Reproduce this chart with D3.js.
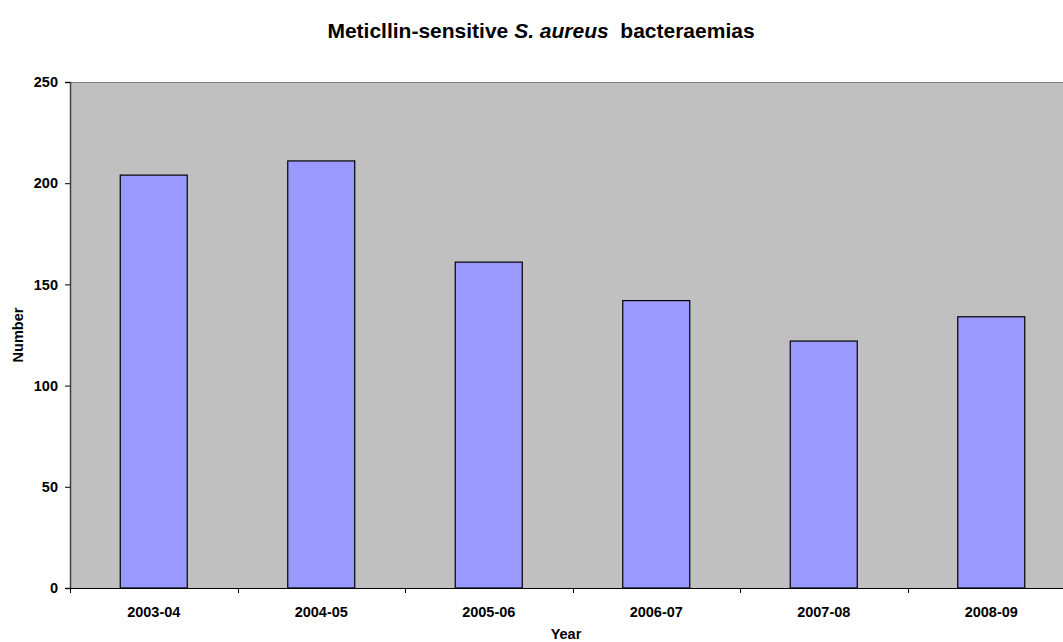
<!DOCTYPE html>
<html>
<head>
<meta charset="utf-8">
<script src="https://cdn.jsdelivr.net/npm/d3@7"></script>
<style>
  html, body { margin: 0; padding: 0; background: #ffffff; }
  svg { display: block; font-family: Arial, "Liberation Sans", sans-serif; }
</style>
</head>
<body>
<svg id="chart" width="1063" height="642"></svg>
<script>
// Financial years and counts of MSSA bacteraemias
const years = ["2003-04", "2004-05", "2005-06", "2006-07", "2007-08", "2008-09"];
const counts = [204, 211, 161, 142, 122, 134];
const yTicks = [0, 50, 100, 150, 200, 250];

const svg = d3.select("#chart");
const plot = { left: 70, top: 82, right: 1075, bottom: 588 };

const x = d3.scaleBand()
  .domain(years)
  .range([plot.left, plot.right])
  .paddingInner(0).paddingOuter(0);

const y = d3.scaleLinear()
  .domain([0, 250])
  .range([plot.bottom, plot.top]);

// Plot area
svg.append("rect")
  .attr("x", plot.left).attr("y", plot.top)
  .attr("width", plot.right - plot.left)
  .attr("height", plot.bottom - plot.top)
  .attr("fill", "#c0c0c0");

svg.append("line")
  .attr("x1", plot.left).attr("x2", plot.right)
  .attr("y1", plot.top + 0.5).attr("y2", plot.top + 0.5)
  .attr("stroke", "#808080").attr("stroke-width", 1);

// Bars
const barW = x.bandwidth() * 0.4;
svg.append("g").selectAll("rect")
  .data(years)
  .join("rect")
  .attr("x", (d) => x(d) + (x.bandwidth() - barW) / 2)
  .attr("y", (d, i) => y(counts[i]))
  .attr("width", barW)
  .attr("height", (d, i) => y(0) - y(counts[i]))
  .attr("fill", "#9999ff")
  .attr("stroke", "#000000")
  .attr("stroke-width", 1.2);

// Y axis
const yAxis = d3.axisLeft(y).tickValues(yTicks).tickSize(5).tickPadding(7);
const gy = svg.append("g")
  .attr("transform", `translate(${plot.left},0)`)
  .call(yAxis);
gy.select(".domain").attr("stroke", "#404040").attr("stroke-width", 1.5);
gy.selectAll(".tick line").attr("stroke", "#000");
gy.selectAll(".tick text")
  .style("font-size", "14.5px").style("font-weight", "bold")
  .style("font-family", "Arial, 'Liberation Sans', sans-serif")
  .attr("fill", "#000");

// X axis: ticks on band boundaries, labels centred on bands
const gx = svg.append("g").attr("transform", `translate(0,${plot.bottom})`);
gx.append("line")
  .attr("x1", plot.left).attr("x2", plot.right)
  .attr("y1", 0.5).attr("y2", 0.5)
  .attr("stroke", "#000").attr("stroke-width", 1.2);
gx.selectAll(".btick")
  .data(years)
  .join("line")
  .attr("class", "btick")
  .attr("x1", (d) => Math.round(x(d)) + 0.5).attr("x2", (d) => Math.round(x(d)) + 0.5)
  .attr("y1", 0).attr("y2", 5)
  .attr("stroke", "#000");
gx.selectAll(".blabel")
  .data(years)
  .join("text")
  .attr("class", "blabel")
  .attr("x", (d) => x(d) + x.bandwidth() / 2)
  .attr("y", 29)
  .attr("text-anchor", "middle")
  .style("font-size", "14.5px").style("font-weight", "bold")
  .text((d) => d);

// Axis titles
svg.append("text")
  .attr("x", 566).attr("y", 639)
  .attr("text-anchor", "middle")
  .style("font-size", "14.5px").style("font-weight", "bold")
  .text("Year");

svg.append("text")
  .attr("transform", "translate(23,335) rotate(-90)")
  .attr("text-anchor", "middle")
  .style("font-size", "14.5px").style("font-weight", "bold")
  .text("Number");

// Chart title with italic organism name
const title = svg.append("text")
  .attr("x", 541).attr("y", 38)
  .attr("text-anchor", "middle")
  .style("font-size", "21px").style("font-weight", "bold");
title.append("tspan").text("Meticllin-sensitive ");
title.append("tspan").style("font-style", "italic").text("S. aureus");
title.append("tspan").attr("xml:space", "preserve").text("\u00a0 bacteraemias");
</script>
</body>
</html>
